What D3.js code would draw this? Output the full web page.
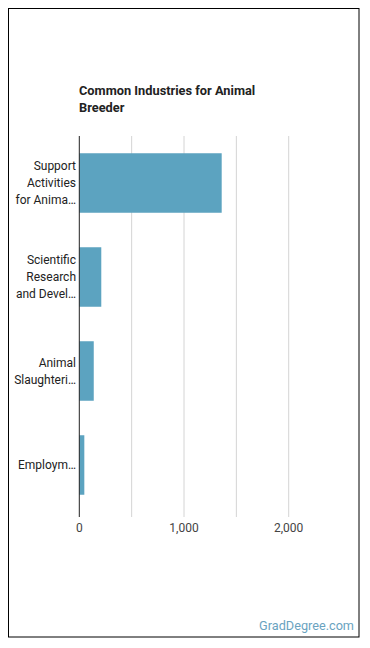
<!DOCTYPE html>
<html><head><meta charset="utf-8">
<script src="https://cdn.jsdelivr.net/npm/d3@7"></script>
<style>body{margin:0;background:#fff;}svg{display:block;font-family:Roboto,"Noto Sans",sans-serif;}</style>
</head><body>
<svg id="c" width="370" height="648"></svg>
<script>
const categories = [["Support","Activities","for Anima…"],["Scientific","Research","and Devel…"],["Animal","Slaughteri…"],["Employm…"]];
const categoryIds = ["support","scientific","slaughter","employment"];
const values = [1360, 210, 138, 48];
const tickValues = [0, 500, 1000, 1500, 2000];
const tickLabels = ["0", "", "1,000", "", "2,000"];
const titleLines = ["Common Industries for Animal", "Breeder"];
const footer = "GradDegree.com";

const svg = d3.select("#c");
svg.append("rect").attr("x",8.5).attr("y",8.5).attr("width",350.5).attr("height",628.5)
  .attr("fill","#fff").attr("stroke","#000").attr("stroke-width",1);

const x = d3.scaleLinear().domain([0,2000]).range([79.3,288.7]);
const y = d3.scaleBand().domain(categoryIds).range([136,512]).paddingInner(0.367).paddingOuter(0.1835);

svg.selectAll("text.title").data(titleLines).join("text").attr("class","title")
  .attr("x",79).attr("y",(d,i)=>95+i*17).attr("font-size",12.8).attr("font-weight","bold").attr("fill","#222").text(d=>d);

// gridlines
svg.append("g").selectAll("line").data(tickValues.slice(1)).join("line")
  .attr("x1",d=>x(d)).attr("x2",d=>x(d)).attr("y1",136).attr("y2",517)
  .attr("stroke","#d4d4d4").attr("stroke-width",1);

// bars
svg.append("g").selectAll("rect").data(values).join("rect")
  .attr("x",x(0)).attr("y",(d,i)=>y(categoryIds[i]))
  .attr("width",d=>x(d)-x(0)).attr("height",y.bandwidth())
  .attr("fill","#5ca3c0");

// baseline
svg.append("line").attr("x1",x(0)).attr("x2",x(0)).attr("y1",136).attr("y2",517).attr("stroke","#222").attr("stroke-width",1);

// x tick labels
svg.append("g").selectAll("text").data(tickValues).join("text")
  .attr("x",d=>x(d)).attr("y",532).attr("text-anchor","middle").attr("font-size",12).attr("fill","#444")
  .text((d,i)=>tickLabels[i]);

// category labels
categories.forEach((lines,i)=>{
  const cy = y(categoryIds[i]) + y.bandwidth()/2;
  const n = lines.length, lh = 17;
  const t = svg.append("text").attr("text-anchor","end").attr("font-size",12).attr("fill","#222");
  lines.forEach((l,j)=>{
    t.append("tspan").attr("x",76).attr("y", cy + (j-(n-1)/2)*lh + 4).text(l);
  });
});

svg.append("text").attr("x",354).attr("y",630).attr("text-anchor","end").attr("font-size",12.7)
  .attr("fill","#6aa3bf").text(footer);
</script>
</body></html>
